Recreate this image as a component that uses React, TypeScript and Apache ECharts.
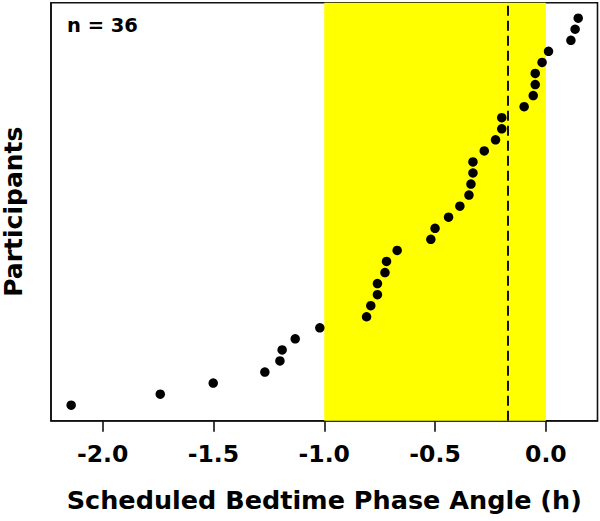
import React, { useEffect, useRef } from "react";
import * as echarts from "echarts";

// Sorted bedtime phase angles (h), one per participant (ranked bottom to top)
const phaseAngles: number[] = [
  -2.142, -1.74, -1.501, -1.268, -1.2, -1.19, -1.131, -1.02, -0.809, -0.79,
  -0.76, -0.76, -0.726, -0.719, -0.671, -0.519, -0.5, -0.439, -0.388, -0.347,
  -0.338, -0.329, -0.329, -0.278, -0.227, -0.199, -0.199, -0.098, -0.057,
  -0.048, -0.048, -0.017, 0.012, 0.113, 0.132, 0.146,
];
const participantRanks: number[] = phaseAngles.map((_, i) => i + 1);
const xTicks: number[] = [-2.0, -1.5, -1.0, -0.5, 0.0];
const bandRange: number[] = [-1.0, 0.0];
const meanLine = -0.167;
const nLabel = "n = 36";
const xTitle = "Scheduled Bedtime Phase Angle (h)";
const yTitle = "Participants";

const FONT = "'DejaVu Sans', 'Liberation Sans', Arial, sans-serif";

export default function App() {
  const ref = useRef<HTMLDivElement>(null);
  useEffect(() => {
    if (!ref.current) return;
    const chart = echarts.init(ref.current, null, { renderer: "svg" });
    const points = phaseAngles.map((v, i) => [v, participantRanks[i]]);
    chart.setOption({
      animation: false,
      backgroundColor: "#ffffff",
      title: {
        text: nLabel,
        left: 62,
        top: 10,
        textStyle: { fontFamily: FONT, fontWeight: "bold", fontSize: 19.5, color: "#000" },
      },
      grid: {
        left: 51,
        right: 2.5,
        top: 2.7,
        bottom: 100.3,
        show: true,
        borderColor: "#111",
        borderWidth: 1.6,
        backgroundColor: "transparent",
        containLabel: false,
        outerBoundsMode: "none",
      },
      xAxis: {
        type: "value",
        min: -2.233,
        max: 0.233,
        name: xTitle,
        nameLocation: "middle",
        nameGap: 66,
        nameTextStyle: { fontFamily: FONT, fontWeight: "bold", fontSize: 25.5, color: "#000" },
        axisLine: { show: true, onZero: false, lineStyle: { color: "#111", width: 1.6 } },
        axisTick: {
          show: true,
          length: 11,
          customValues: xTicks,
          lineStyle: { color: "#111", width: 1.6 },
        },
        axisLabel: {
          show: true,
          customValues: xTicks,
          margin: 21,
          formatter: (v: number) => v.toFixed(1),
          fontFamily: FONT,
          fontWeight: "bold",
          fontSize: 23.5,
          color: "#000",
        },
        splitLine: { show: false },
      },
      yAxis: {
        type: "value",
        min: -0.4,
        max: 37.4,
        name: yTitle,
        nameLocation: "middle",
        nameGap: 25,
        nameRotate: 90,
        nameTextStyle: { fontFamily: FONT, fontWeight: "bold", fontSize: 25, color: "#000" },
        axisLine: { show: true, onZero: false, lineStyle: { color: "#111", width: 1.6 } },
        axisTick: { show: false },
        axisLabel: { show: false },
        splitLine: { show: false },
      },
      series: [
        {
          type: "scatter",
          z: 1,
          silent: true,
          data: [],
          markArea: {
            silent: true,
            itemStyle: { color: "#ffff00", opacity: 1, borderWidth: 0 },
            data: [[{ xAxis: bandRange[0] }, { xAxis: bandRange[1] }]],
          },
        },
        {
          type: "scatter",
          z: 3,
          symbol: "circle",
          symbolSize: 9.5,
          itemStyle: { color: "#000", opacity: 1 },
          data: points,
          markLine: {
            silent: true,
            symbol: "none",
            label: { show: false },
            lineStyle: { color: "#111", width: 2, type: [10, 5] },
            data: [{ xAxis: meanLine }],
          },
        },
      ],
    });
    return () => chart.dispose();
  }, []);
  return (
    <div
      ref={ref}
      style={{ position: "fixed", left: 0, top: 0, width: 600, height: 521, background: "#fff" }}
    />
  );
}
